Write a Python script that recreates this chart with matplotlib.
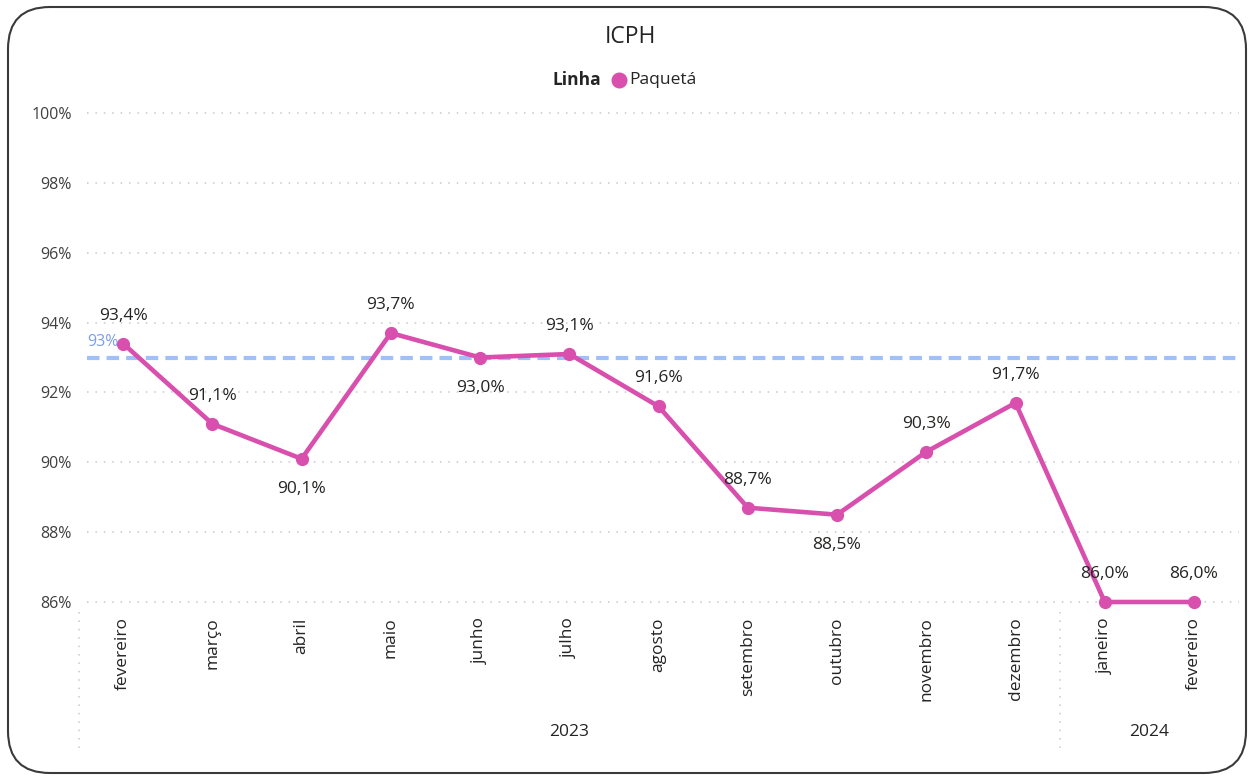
import matplotlib
matplotlib.use("Agg")
import matplotlib.pyplot as plt
from matplotlib.patches import FancyBboxPatch
from matplotlib.lines import Line2D

months = ["fevereiro", "março", "abril", "maio", "junho", "julho", "agosto",
          "setembro", "outubro", "novembro", "dezembro", "janeiro", "fevereiro"]
years = ["2023", "2024"]
year_counts = [11, 2]
values = [93.4, 91.1, 90.1, 93.7, 93.0, 93.1, 91.6, 88.7, 88.5, 90.3, 91.7, 86.0, 86.0]
label_below = [False, False, True, False, True, False, False, False, True, False, False, False, False]
yticks = [86, 88, 90, 92, 94, 96, 98, 100]
ref_value = 93
title = "ICPH"
legend_title = "Linha"
series_name = "Paquetá"

plt.rcParams['font.family'] = ['Open Sans', 'DejaVu Sans']

W, H = 1248, 776
fig = plt.figure(figsize=(W / 100, H / 100), dpi=100)
fig.patch.set_facecolor("white")

# background axes in pixel coords for the rounded frame
bg = fig.add_axes([0, 0, 1, 1], zorder=-1)
bg.set_xlim(0, W)
bg.set_ylim(0, H)
bg.axis("off")
frame = FancyBboxPatch((8, 3), W - 10, H - 10,
                       boxstyle="round,pad=0,rounding_size=42",
                       facecolor="white", edgecolor="#3a3a3a", linewidth=1.5)
bg.add_patch(frame)

ax_left, ax_right = 78.5, 1238.6
ax_top, ax_bot = 113, 602
ax = fig.add_axes([ax_left / W, (H - ax_bot) / H, (ax_right - ax_left) / W, (ax_bot - ax_top) / H])
ax.set_facecolor("none")
n = len(months)
ax.set_xlim(-0.5, n - 0.5)
ax.set_ylim(86, 100)
for s in ax.spines.values():
    s.set_visible(False)
ax.tick_params(length=0)

# gridlines
gx0 = (87 - ax_left) / (ax_right - ax_left)
for t in yticks:
    ax.axhline(t, xmin=gx0, xmax=1, color="#c8c8c8", linewidth=1.1,
               linestyle=(0, (1, 4.5)), zorder=1, clip_on=False)
ax.set_yticks(yticks)
ax.set_yticklabels([f"{t}%" for t in yticks], fontsize=11.5, color="#404040")
ax.tick_params(axis="y", pad=5)

ax.set_xticks(range(n))
ax.set_xticklabels(months, rotation=90, fontsize=12.5, color="#252423", va="top")
ax.tick_params(axis="x", pad=11)

# reference line
ax.axhline(ref_value, xmin=gx0, xmax=1, color="#9fc0fa", linewidth=3,
           linestyle=(0, (3, 1.7)), zorder=2, clip_on=False)
ax.annotate(f"{ref_value}%", xy=(gx0, ref_value), xycoords=ax.get_yaxis_transform(),
            xytext=(0, 16), textcoords="offset pixels", ha="left", va="center",
            fontsize=11.5, color="#7b9ef0", zorder=3)

# series
color = "#d94fad"
ax.plot(range(n), values, color=color, linewidth=3.3, marker="o", markersize=8.5,
        zorder=4, clip_on=False, solid_joinstyle="round")

for i, (v, below) in enumerate(zip(values, label_below)):
    dy = -30 if below else 28
    ax.annotate(f"{v:.1f}%".replace(".", ","), xy=(i, v), xytext=(0, dy),
                textcoords="offset pixels", ha="center", va="center",
                fontsize=12.5, color="#252423", zorder=5)

# year groups and separators
trans = ax.get_xaxis_transform()
def fy(py):
    return (ax_bot - py) / (ax_bot - ax_top)

start = 0
seps = [-0.5]
for yname, cnt in zip(years, year_counts):
    center = start + (cnt - 1) / 2
    ax.text(center, fy(732), yname, transform=trans, ha="center", va="center",
            fontsize=12.5, color="#252423")
    start += cnt
    seps.append(start - 0.5)
for sx in seps[:-1]:
    ax.plot([sx, sx], [fy(612), fy(748)], transform=trans, color="#c8c8c8",
            linewidth=1.1, linestyle=(0, (1, 4.5)), clip_on=False)

# title and legend
fig.text(630 / W, 1 - 37 / H, title, ha="center", va="center", fontsize=16.5, color="#252423")
fig.text(601 / W, 1 - 80 / H, legend_title, ha="right", va="center", fontsize=12.5,
         fontweight="bold", color="#252423")
fig.lines.append(Line2D([619 / W], [1 - 80 / H], marker="o", markersize=10.5,
                        color=color, transform=fig.transFigure, linestyle="none"))
fig.text(629 / W, 1 - 80 / H, series_name, ha="left", va="center", fontsize=12.5, color="#252423")

fig.savefig("out.png", dpi=100, facecolor="white")
